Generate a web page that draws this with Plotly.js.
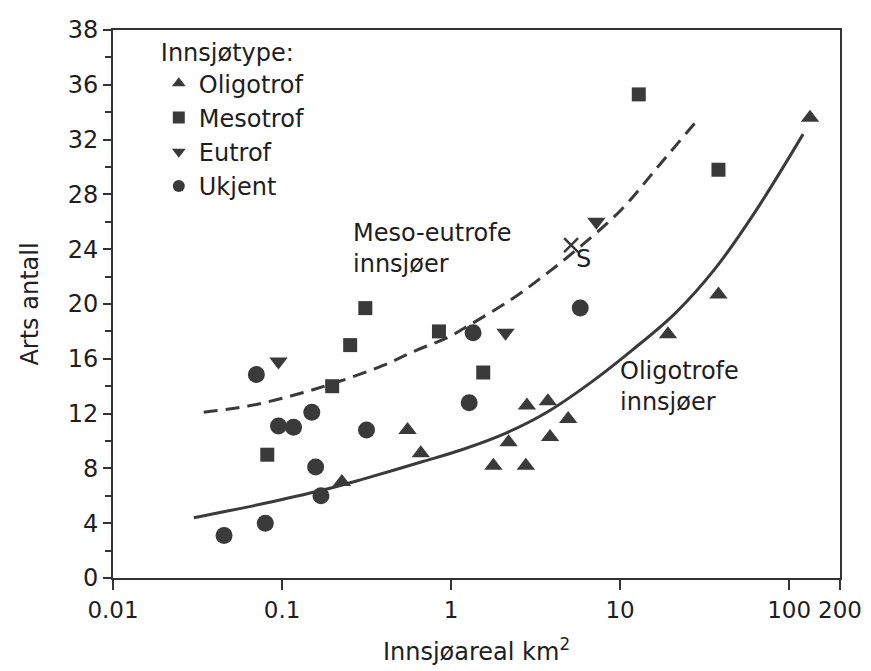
<!DOCTYPE html>
<html>
<head>
<meta charset="utf-8">
<script src="https://cdn.plot.ly/plotly-3.0.1.min.js"></script>
<style>html,body{margin:0;padding:0;background:#fff;}#chart{width:871px;height:671px;}</style>
</head>
<body>
<div id="chart"></div>
<script>
// Oligotrof (triangles)
const oligoArea = [0.226, 0.553, 0.662, 1.78, 2.77, 2.19, 2.81, 3.74, 3.85, 4.93, 19.2, 38.2, 133];
const oligoSpecies = [7.0, 10.8, 9.1, 8.2, 8.2, 9.9, 12.6, 12.9, 10.3, 11.6, 17.8, 20.7, 33.6];
// Mesotrof (squares)
const mesoArea = [0.0818, 0.198, 0.253, 0.311, 0.848, 1.55, 12.9, 38.2];
const mesoSpecies = [9.0, 14.0, 17.0, 19.7, 18.0, 15.0, 35.3, 29.8];
// Eutrof (inverted triangles)
const eutroArea = [0.0953, 2.10, 7.24];
const eutroSpecies = [15.8, 17.9, 26.0];
// Ukjent (circles)
const ukjArea = [0.0454, 0.0796, 0.0705, 0.0953, 0.117, 0.150, 0.158, 0.170, 0.316, 1.35, 1.28, 5.81];
const ukjSpecies = [3.1, 4.0, 14.85, 11.1, 11.0, 12.1, 8.1, 6.0, 10.8, 17.9, 12.8, 19.7];
// Lake S (cross)
const sArea = [5.13];
const sSpecies = [24.3];
// Meso-eutrofe fitted curve (dashed)
const mesoCurveArea = [0.0344, 0.063, 0.114, 0.206, 0.393, 0.618, 0.97, 1.30, 2.25, 3.40, 5.57, 10.2, 16.7, 29.0];
const mesoCurveSpecies = [12.1, 12.55, 13.3, 14.25, 15.5, 16.6, 17.6, 18.5, 20.3, 21.9, 24.0, 26.9, 30.0, 33.5];
// Oligotrofe fitted curve (solid)
const oligoCurveArea = [0.0301, 0.0755, 0.172, 0.298, 0.681, 1.18, 2.13, 3.69, 6.76, 11.7, 21.1, 36.6, 63.5, 121];
const oligoCurveSpecies = [4.4, 5.4, 6.4, 7.2, 8.5, 9.4, 10.6, 12.1, 14.3, 16.6, 19.3, 22.6, 26.8, 32.4];
// Axis ticks
const xTickVals = [0.01, 0.1, 1, 10, 100, 200];
const xTickText = ['0.01', '0.1', '1', '10', '100', '200'];
const yTickVals = [0, 4, 8, 12, 16, 20, 24, 28, 32, 36, 40];
const yTickText = ['0', '4', '8', '12', '16', '20', '24', '28', '32', '36', '38'];
const yMinorVals = [2, 6, 10, 14, 18, 22, 26, 30, 34, 38];

const ink = '#3a3a3a';
const txt = '#1e1e1e';
const FONT = 'DejaVu Sans, Liberation Sans, sans-serif';
const FS = 24;

const traces = [
  {x: oligoCurveArea, y: oligoCurveSpecies, mode: 'lines', line: {color: ink, width: 3, shape: 'spline', smoothing: 1}, showlegend: false, hoverinfo: 'skip'},
  {x: mesoCurveArea, y: mesoCurveSpecies, mode: 'lines', line: {color: ink, width: 3, dash: '14px,8px', shape: 'spline', smoothing: 1}, showlegend: false, hoverinfo: 'skip'},
  {x: oligoArea, y: oligoSpecies, mode: 'markers', name: 'Oligotrof', marker: {symbol: 'triangle-up', size: 16, color: ink}},
  {x: mesoArea, y: mesoSpecies, mode: 'markers', name: 'Mesotrof', marker: {symbol: 'square', size: 14, color: ink}},
  {x: eutroArea, y: eutroSpecies, mode: 'markers', name: 'Eutrof', marker: {symbol: 'triangle-down', size: 16, color: ink}},
  {x: ukjArea, y: ukjSpecies, mode: 'markers', name: 'Ukjent', marker: {symbol: 'circle', size: 17, color: ink}},
  {x: sArea, y: sSpecies, mode: 'markers', showlegend: false, marker: {symbol: 'x-thin-open', size: 14, color: ink, line: {color: ink, width: 2.5}}}
];

const layout = {
  width: 871, height: 671,
  margin: {l: 113, r: 31, t: 30, b: 93},
  paper_bgcolor: '#fff', plot_bgcolor: '#fff',
  font: {family: FONT, size: FS, color: txt},
  showlegend: true,
  legend: {
    x: 0.063, y: 1.0, xanchor: 'left', yanchor: 'top',
    bgcolor: 'rgba(0,0,0,0)', borderwidth: 0,
    font: {family: FONT, size: FS, color: txt},
    title: {text: 'Innsjøtype:', font: {family: FONT, size: FS, color: txt}},
    itemsizing: 'constant', tracegroupgap: 0, itemwidth: 30
  },
  xaxis: {
    type: 'log', range: [-2, Math.log10(200)],
    tickmode: 'array', tickvals: xTickVals, ticktext: xTickText,
    ticks: 'outside', ticklen: 10, tickwidth: 2, tickcolor: '#333',
    showline: true, linecolor: '#333', linewidth: 2, mirror: true,
    showgrid: false, zeroline: false,
    tickfont: {family: FONT, size: FS - 1, color: txt},
    title: {text: 'Innsjøareal km<sup>2</sup>', font: {family: FONT, size: FS, color: txt}, standoff: 22}
  },
  yaxis: {
    range: [0, 40],
    tickmode: 'array', tickvals: yTickVals, ticktext: yTickText,
    ticks: 'outside', ticklen: 8, tickwidth: 2, tickcolor: '#333',
    minor: {tickmode: 'array', tickvals: yMinorVals, ticks: 'outside', ticklen: 6, tickwidth: 2, tickcolor: '#333', showgrid: false},
    showline: true, linecolor: '#333', linewidth: 2, mirror: true,
    showgrid: false, zeroline: false,
    tickfont: {family: FONT, size: FS, color: txt},
    title: {text: 'Arts antall', font: {family: FONT, size: FS, color: txt}, standoff: 22}
  },
  annotations: [
    {xref: 'paper', yref: 'paper', x: 0.328, y: 0.602, xanchor: 'left', yanchor: 'middle', align: 'left', showarrow: false,
     text: 'Meso-eutrofe<br>innsjøer', font: {family: FONT, size: FS, color: txt}},
    {xref: 'paper', yref: 'paper', x: 0.694, y: 0.350, xanchor: 'left', yanchor: 'middle', align: 'left', showarrow: false,
     text: 'Oligotrofe<br>innsjøer', font: {family: FONT, size: FS, color: txt}},
    {xref: 'paper', yref: 'paper', x: 0.634, y: 0.582, xanchor: 'left', yanchor: 'middle', showarrow: false,
     text: 'S', font: {family: FONT, size: FS, color: txt}}
  ]
};

Plotly.newPlot('chart', traces, layout, {displayModeBar: false, staticPlot: true});
</script>
</body>
</html>
